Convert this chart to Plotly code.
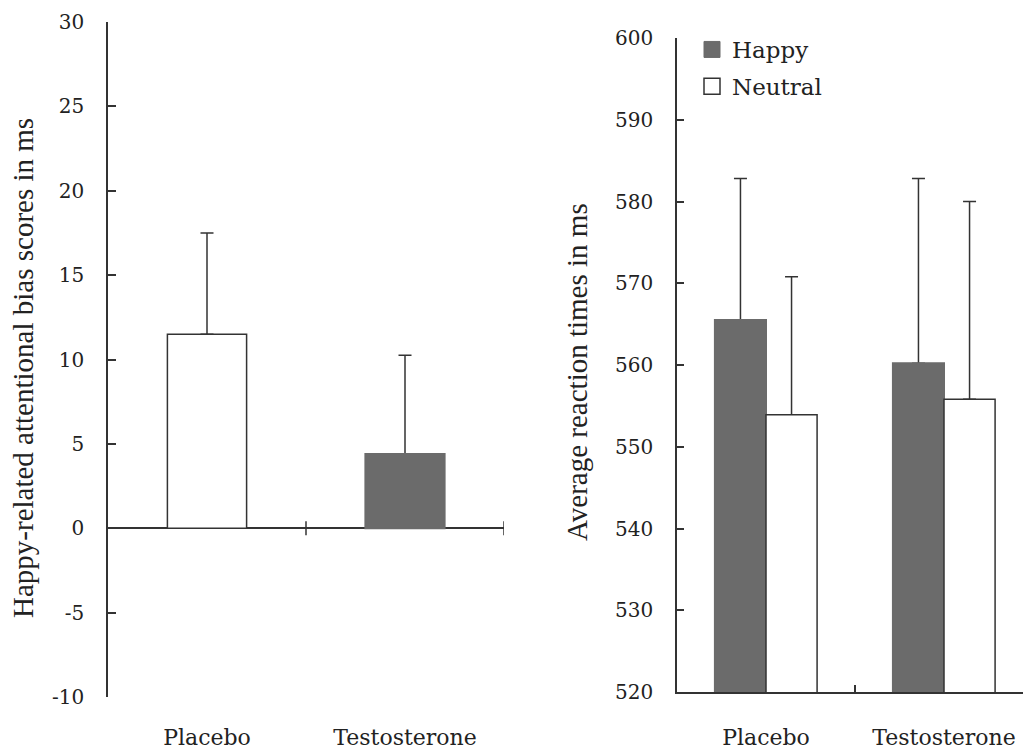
import plotly.graph_objects as go

# ---------------- data ----------------
groups = ["Placebo", "Testosterone"]

# left panel: happy-related attentional bias scores (ms)
bias_means = [11.5, 4.4]
bias_err_up = [6.0, 5.85]
bias_colors = ["#ffffff", "#6b6b6b"]

# right panel: average reaction times (ms)
happy_rt = [565.5, 560.2]
happy_err_up = [17.3, 22.6]
neutral_rt = [553.9, 555.8]
neutral_err_up = [16.9, 24.2]

left_ticks = [-10, -5, 0, 5, 10, 15, 20, 25, 30]
left_ticktext = ["-10", "-5", "0", "5", "10", "15", "20", "25", "30"]
right_ticks = [520, 530, 540, 550, 560, 570, 580, 590, 600]

W, H = 1023, 752
DARK = "#333333"
GRAY = "#6b6b6b"
CLEAR = "rgba(0,0,0,0)"
TICKFONT = dict(family="DejaVu Serif", size=20, color="#222222")
CATFONT = dict(family="DejaVu Serif", size=22, color="#222222")
TITLEFONT = dict(family="Liberation Serif", size=29, color="#222222")


def err(arr):
    return dict(type="data", symmetric=False, array=arr, arrayminus=[0] * len(arr),
                color=DARK, thickness=1.5, width=6.5)


fig = go.Figure()

# error bars first (on transparent bars) so the visible bars hide their lower caps
fig.add_trace(go.Bar(x=groups, y=bias_means, width=0.4, offset=-0.2, error_y=err(bias_err_up),
                     marker=dict(color=CLEAR, line=dict(width=0)),
                     xaxis="x", yaxis="y", showlegend=False, hoverinfo="skip"))
fig.add_trace(go.Bar(x=groups, y=happy_rt, width=0.287, offset=-0.287, error_y=err(happy_err_up),
                     marker=dict(color=CLEAR, line=dict(width=0)),
                     xaxis="x2", yaxis="y2", showlegend=False, hoverinfo="skip"))
fig.add_trace(go.Bar(x=groups, y=neutral_rt, width=0.287, offset=0.0, error_y=err(neutral_err_up),
                     marker=dict(color=CLEAR, line=dict(width=0)),
                     xaxis="x2", yaxis="y2", showlegend=False, hoverinfo="skip"))

# visible bars
fig.add_trace(go.Bar(
    x=groups, y=bias_means, width=0.4, offset=-0.2,
    marker=dict(color=bias_colors, line=dict(color=[DARK, GRAY], width=[1.5, 2])),
    xaxis="x", yaxis="y", showlegend=False,
))
fig.add_trace(go.Bar(
    x=groups, y=happy_rt, width=0.287, offset=-0.287,
    marker=dict(color=GRAY, line=dict(color=GRAY, width=2)),
    xaxis="x2", yaxis="y2", showlegend=False, name="Happy",
))
fig.add_trace(go.Bar(
    x=groups, y=neutral_rt, width=0.287, offset=0.0,
    marker=dict(color="#ffffff", line=dict(color=DARK, width=1.5)),
    xaxis="x2", yaxis="y2", showlegend=False, name="Neutral",
))

# legend entries
fig.add_trace(go.Scatter(
    x=[None], y=[None], mode="markers", name="Happy", legendgroup="h",
    marker=dict(symbol="square", size=16, color=GRAY, line=dict(color=GRAY, width=1)),
    xaxis="x2", yaxis="y2",
))
fig.add_trace(go.Scatter(
    x=[None], y=[None], mode="markers", name="Neutral", legendgroup="n",
    marker=dict(symbol="square", size=16, color="#ffffff", line=dict(color=DARK, width=1.5)),
    xaxis="x2", yaxis="y2",
))

# boundary ticks crossing the zero line in the left panel
for xb in [0.5, 1.5]:
    fig.add_shape(type="line", xref="x", yref="y", x0=xb, x1=xb,
                  ysizemode="pixel", yanchor=0, y0=-7, y1=7,
                  line=dict(color=DARK, width=1.5))

fig.update_layout(
    width=W, height=H, autosize=False,
    margin=dict(l=0, r=0, t=0, b=0, pad=0, autoexpand=False),
    paper_bgcolor="white", plot_bgcolor="white",
    barmode="group",
    xaxis=dict(domain=[108 / W, 504 / W], range=[-0.5, 1.5], type="category",
               showline=False, showgrid=False, zeroline=False, ticks="",
               tickfont=CATFONT, ticklabelstandoff=25, anchor="y", automargin=False),
    yaxis=dict(domain=[1 - 697 / H, 1 - 22 / H], range=[-10, 30],
               tickvals=left_ticks, ticktext=left_ticktext,
               showline=True, linecolor=DARK, linewidth=1.5,
               ticks="inside", ticklen=8, tickcolor=DARK, tickwidth=1.5,
               showgrid=False, zeroline=True, zerolinecolor=DARK, zerolinewidth=1.5,
               tickfont=TICKFONT, ticklabelstandoff=18, anchor="x", automargin=False),
    xaxis2=dict(domain=[677 / W, 1.0], range=[-0.5, 1.4438], type="category",
                showline=True, linecolor=DARK, linewidth=1.5,
                ticks="inside", tickson="boundaries", ticklen=7, tickcolor=DARK, tickwidth=1.5,
                showgrid=False, zeroline=False,
                tickfont=CATFONT, ticklabelstandoff=25, anchor="y2", automargin=False),
    yaxis2=dict(domain=[1 - 692 / H, 1 - 38 / H], range=[520, 600],
                tickvals=right_ticks,
                showline=True, linecolor=DARK, linewidth=1.5,
                ticks="inside", ticklen=7, tickcolor=DARK, tickwidth=1.5,
                showgrid=False, zeroline=False,
                tickfont=TICKFONT, ticklabelstandoff=18, anchor="x2", automargin=False),
    legend=dict(x=692 / W, y=1 - 28 / H, xanchor="left", yanchor="top",
                bgcolor="rgba(0,0,0,0)", font=dict(family="DejaVu Serif", size=23, color="#222222"),
                tracegroupgap=4, itemsizing="trace"),
    annotations=[
        dict(text="Happy-related attentional bias scores in ms", xref="paper", yref="paper",
             x=23 / W, y=1 - 368 / H, textangle=-90, showarrow=False,
             xanchor="center", yanchor="middle", font=TITLEFONT),
        dict(text="Average reaction times in ms", xref="paper", yref="paper",
             x=577 / W, y=1 - 372 / H, textangle=-90, showarrow=False,
             xanchor="center", yanchor="middle", font=TITLEFONT),
    ],
)

fig.write_html("out.html", config={"displayModeBar": False},
               post_script="document.body.style.margin='0px';document.body.style.overflow='hidden';")
